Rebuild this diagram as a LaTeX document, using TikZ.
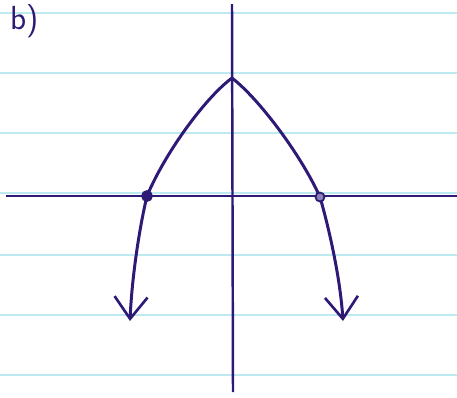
\documentclass[tikz,border=0pt]{standalone}
\usepackage{xcolor}
\usetikzlibrary{arrows.meta}

\definecolor{ink}{RGB}{46,26,118}
\definecolor{rule}{RGB}{188,234,240}

\tikzset{
  paperline/.style={rule, line width=0.9pt},
  axisline/.style={ink, line width=1.4pt},
  barb/.tip={Straight Barb[length=4.4mm, width=6.6mm, line width=1.5pt]},
  curveline/.style={ink, line width=1.7pt, line cap=round, line join=round,
    barb-barb},
  rootdot/.style={ink, line width=1pt}
}

\begin{document}
\begin{tikzpicture}[x=0.02cm, y=-0.02cm]
  \useasboundingbox (0,0) rectangle (457,397);
  \fill[white] (0,0) rectangle (457,397);

  % Lined paper
  \foreach \y in {13,73,133,193,255,315,375}
    \draw[paperline] (0,\y) -- (457,\y);

  % Label
  \node[ink, font=\sffamily\fontsize{19}{19}\selectfont, anchor=base west, inner sep=0pt]
    (label) at (10,29) {b)};

  % Axes
  \coordinate (xl) at (6,196);
  \coordinate (xr) at (457,196);
  \coordinate (yt) at (232,4);
  \coordinate (yb) at (233,392);
  \draw[axisline] (xl) -- (xr);
  \draw[axisline] (yt) -- (yb);

  % Parabola
  \coordinate (vertex) at (232,78);
  \coordinate (rootl) at (147,196);
  \coordinate (rootr) at (320,197);
  \coordinate (tipl) at (130,321);
  \coordinate (tipr) at (343,321);
  \draw[curveline] (tipl) .. controls (132,275) and (140,225) .. (rootl)
    .. controls (165,153) and (205,98) .. (vertex)
    .. controls (258,98) and (300,153) .. (rootr)
    .. controls (328,225) and (340,275) .. (tipr);

  % Roots
  \filldraw[rootdot] (rootl) circle (5);
  \filldraw[rootdot, fill=ink!55] (rootr) circle (4.5);
\end{tikzpicture}
\end{document}
